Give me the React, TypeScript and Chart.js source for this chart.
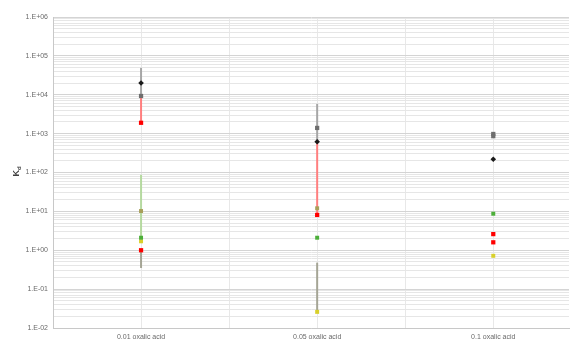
import React, { useEffect, useRef } from "react";
import { Chart, registerables } from "chart.js";

Chart.register(...registerables);

const categories = ["0.01 oxalic acid", "0.05 oxalic acid", "0.1 oxalic acid"];

// marker values per category (null = none)
const blackValues = [2.0e4, 6.2e2, 2.2e2];
const greyValues = [9.3e3, 1.4e3, 9.8e2];
const greyValues2 = [null, null, 8.6e2];
const redValues = [1.9e3, 8.1, 2.6];
const redValues2 = [1.0, null, 1.6];
const greenValues = [2.1, 2.1, 8.7];
const yellowValues = [1.7, 0.026, 0.72];
const oliveValues = [10.2, 12.0, null];

// error bars per category: [low, high]
const blackErr = [[9.3e3, 4.9e4], [6.2e2, 5.8e3], null];
const redErr = [[1.9e3, 9.3e3], [8.1, 6.2e2], null];
const greenErr = [[2.1, 87], null, null];
const lowGreyErr = [[0.35, 1.0], [0.026, 0.48], null];

const yTickValues = [1e-2, 1e-1, 1e0, 1e1, 1e2, 1e3, 1e4, 1e5, 1e6];

function fmtExp(v: number) {
  const e = Math.round(Math.log10(v));
  const s = e < 0 ? "-" : "+";
  return "1.E" + s + String(Math.abs(e)).padStart(2, "0");
}

export default function App() {
  const ref = useRef<HTMLCanvasElement>(null);
  useEffect(() => {
    const toPts = (arr: (number | null)[]) =>
      arr.map((v, i) => (v == null ? null : { x: i + 0.5, y: v })).filter(Boolean) as any[];

    const errSets = [
      { data: blackErr, color: "#a6a6a6" },
      { data: redErr, color: "#ff7f7f" },
      { data: greenErr, color: "#b5d9a0" },
      { data: lowGreyErr, color: "#a5a595" },
    ];

    const errPlugin = {
      id: "errbars",
      beforeDatasetsDraw(chart: any) {
        const { ctx, scales } = chart;
        const xs = scales.x, ys = scales.y;
        ctx.save();
        ctx.lineWidth = 2;
        errSets.forEach((s) => {
          s.data.forEach((r: any, i: number) => {
            if (!r) return;
            const x = xs.getPixelForValue(i + 0.5);
            ctx.strokeStyle = s.color;
            ctx.beginPath();
            ctx.moveTo(x, ys.getPixelForValue(r[0]));
            ctx.lineTo(x, ys.getPixelForValue(r[1]));
            ctx.stroke();
          });
        });
        ctx.restore();
      },
    };

    const titlePlugin = {
      id: "ytitle",
      afterDraw(chart: any) {
        const { ctx, chartArea } = chart;
        const cy = (chartArea.top + chartArea.bottom) / 2;
        ctx.save();
        ctx.translate(19, cy);
        ctx.rotate(-Math.PI / 2);
        ctx.fillStyle = "#404040";
        ctx.textBaseline = "alphabetic";
        ctx.font = "bold 9px 'Liberation Sans', Arial, sans-serif";
        ctx.fillText("K", -4, 0);
        ctx.font = "bold 6px 'Liberation Sans', Arial, sans-serif";
        ctx.fillText("d", 2.5, 2);
        ctx.restore();
      },
    };

    const mk = (data: any[], color: string, r = 2.5, style = "rect") => ({
      data,
      backgroundColor: color,
      borderColor: color,
      pointStyle: style,
      pointRadius: r,
      borderWidth: 0,
    });

    const chart = new Chart(ref.current!, {
      type: "scatter",
      data: {
        datasets: [
          mk(toPts(greyValues), "#6e6e6e", 3),
          mk(toPts(greyValues2), "#6e6e6e", 3),
          mk(toPts(blackValues), "#1a1a1a", 2.8, "rectRot"),
          mk(toPts(redValues), "#ff0000", 3),
          mk(toPts(redValues2), "#ff0000", 3),
          mk(toPts(oliveValues), "#a89f5a", 2.8),
          mk(toPts(greenValues), "#4caf3a", 2.8),
          mk(toPts(yellowValues), "#d8d02a", 2.8),
        ] as any,
      },
      options: {
        animation: false,
        responsive: false,
        maintainAspectRatio: false,
        layout: { padding: { top: 17, right: 0, left: 0, bottom: 0 } },
        plugins: { legend: { display: false }, tooltip: { enabled: false } },
        scales: {
          x: {
            type: "linear",
            min: 0,
            max: 2.93,
            afterBuildTicks: (s: any) => {
              s.ticks = [0, 0.5, 1, 1.5, 2, 2.5].map((v) => ({ value: v }));
            },
            afterFit: (s: any) => {
              s.height = 15;
            },
            ticks: {
              autoSkip: false,
              maxRotation: 0,
              padding: 5,
              color: "#6a6a6a",
              font: { size: 7, family: "'Liberation Sans', Arial, sans-serif" },
              callback: (v: any) => {
                const i = Math.round(Number(v) - 0.5);
                return Math.abs(Number(v) - i - 0.5) < 1e-6 ? categories[i] : "";
              },
            },
            grid: {
              color: (c: any) => (c.tick && c.tick.value === 0 ? "#c8c8c8" : "#e8e8e8"),
              lineWidth: 1,
              drawTicks: false,
            },
            border: { display: true, color: "#c8c8c8" },
          },
          y: {
            type: "logarithmic",
            min: 1e-2,
            max: 1e6,
            afterBuildTicks: (s: any) => {
              const t: any[] = [];
              for (let e = -2; e < 6; e++) {
                for (let m = 1; m <= 9; m++) t.push({ value: m * Math.pow(10, e) });
              }
              t.push({ value: 1e6 });
              s.ticks = t;
            },
            afterFit: (s: any) => {
              s.width = 53;
            },
            ticks: {
              autoSkip: false,
              padding: 5,
              color: "#6a6a6a",
              font: { size: 7, family: "'Liberation Sans', Arial, sans-serif" },
              callback: (v: any) => {
                const n = Number(v);
                const isMajor = yTickValues.some((t) => Math.abs(t - n) / t < 1e-6);
                return isMajor ? fmtExp(n) : "";
              },
            },
            grid: {
              color: (c: any) => {
                const n = c.tick ? c.tick.value : 0;
                const isMajor = yTickValues.some((t) => Math.abs(t - n) / t < 1e-6);
                return isMajor ? "#d4d4d4" : "#e6e6e6";
              },
              lineWidth: 1,
              drawTicks: false,
            },
            border: { display: true, color: "#c8c8c8" },
          },
        },
      } as any,
      plugins: [errPlugin, titlePlugin],
    });
    return () => chart.destroy();
  }, []);

  return (
    <div style={{ position: "fixed", left: 0, top: 0, width: 573, height: 343, background: "#fff" }}>
      <canvas ref={ref} width={573} height={343} style={{ display: "block" }} />
    </div>
  );
}
